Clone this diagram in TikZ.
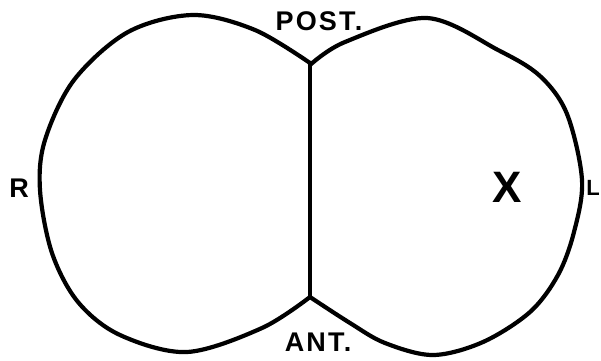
\documentclass[tikz,border=0pt]{standalone}
\usepackage{fontspec}
\setmainfont{Liberation Sans}
\begin{document}
\begin{tikzpicture}[x=1pt,y=-1pt,
  outline/.style={line width=4.2pt, line join=round, line cap=round},
  lbl/.style={inner sep=0pt, font=\fontsize{27}{27}\selectfont\bfseries\addfontfeature{LetterSpace=8}}]
\useasboundingbox (0,0) rectangle (601,360);
\coordinate (jt) at (310,63);
\coordinate (jb) at (310,297);
% left lobe
\draw[outline] plot[smooth, tension=0.55] coordinates {(310,63) (255,30) (193,15) (128,32) (74,80) (45,140) (40,190) (52,253) (78,302) (120,335) (187,352) (262,328) (310,297)};
% right lobe
\draw[outline] plot[smooth, tension=0.55] coordinates {(310,65) (345,42) (427,18) (498,50) (540,76) (567,114) (582,180) (574,232) (558,275) (530,312) (483,342) (433,355) (385,343) (350,323) (310,297)};
\draw[outline] (jt) -- (jb);
\node[lbl] (post) at (319,21) {POST.};
\node[lbl] (ant) at (318,342) {ANT.};
\node[lbl] (r) at (19,188) {R};
\node[lbl, anchor=east, font=\fontsize{22}{22}\selectfont\bfseries] (l) at (600,188) {L};
\node[inner sep=0pt, font=\fontsize{44}{44}\selectfont\bfseries] (x) at (507,187) {X};
\end{tikzpicture}
\end{document}
